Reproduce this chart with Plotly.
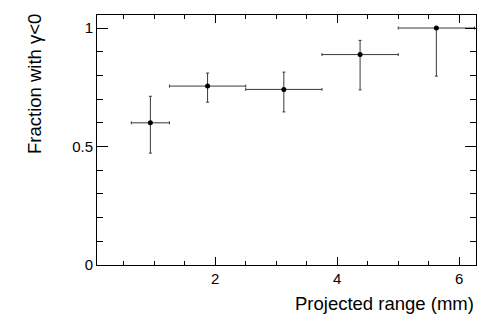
import plotly.graph_objects as go

# bin centres (mm) and half-widths
range_mm = [0.9375, 1.875, 3.125, 4.375, 5.625]
range_halfwidth = [0.3125, 0.625, 0.625, 0.625, 0.625]
fraction = [0.600, 0.755, 0.741, 0.888, 1.0]
err_up = [0.112, 0.055, 0.073, 0.060, 0.0]
err_down = [0.128, 0.068, 0.095, 0.149, 0.203]

font = "Liberation Sans, Arial, Helvetica, sans-serif"

fig = go.Figure()
fig.add_trace(
    go.Scatter(
        x=range_mm,
        y=fraction,
        mode="markers",
        marker=dict(color="black", size=5, symbol="circle"),
        error_x=dict(type="data", array=range_halfwidth, color="#3a3a3a",
                     thickness=1, width=1.5),
        error_y=dict(type="data", array=err_up, arrayminus=err_down,
                     symmetric=False, color="#3a3a3a", thickness=1, width=1.5),
        showlegend=False,
        cliponaxis=False,
    )
)

axis_common = dict(
    showgrid=False,
    zeroline=False,
    showline=True,
    linecolor="black",
    linewidth=1,
    mirror="allticks",
    ticks="inside",
    tickcolor="black",
    tickfont=dict(family=font, size=15, color="black"),
)

fig.update_xaxes(
    range=[0.0625, 6.275],
    tickvals=[2, 4, 6],
    ticklen=8,
    minor=dict(dtick=0.5, tick0=0, ticks="inside", ticklen=4, tickcolor="black"),
    **axis_common,
)
fig.update_yaxes(
    range=[0, 1.055],
    tickvals=[0, 0.5, 1],
    ticktext=["0", "0.5", "1"],
    ticklen=11,
    minor=dict(dtick=0.1, tick0=0, ticks="inside", ticklen=6, tickcolor="black"),
    **axis_common,
)

fig.add_annotation(
    text="Projected range (mm)", xref="paper", yref="paper",
    x=1.0, y=-0.105, xanchor="right", yanchor="top", showarrow=False,
    font=dict(family=font, size=18.5, color="black"),
)
fig.add_annotation(
    text="Fraction with γ<0", xref="paper", yref="paper",
    x=-0.163, y=1.013, xanchor="center", yanchor="top", textangle=-90,
    showarrow=False, font=dict(family=font, size=18.5, color="black"),
)

fig.update_layout(
    width=491,
    height=332,
    margin=dict(l=97, r=15, t=15, b=67),
    plot_bgcolor="white",
    paper_bgcolor="white",
)

fig.write_html(
    "out.html",
    config={"displayModeBar": False},
    post_script="document.body.style.margin='0px';",
)
